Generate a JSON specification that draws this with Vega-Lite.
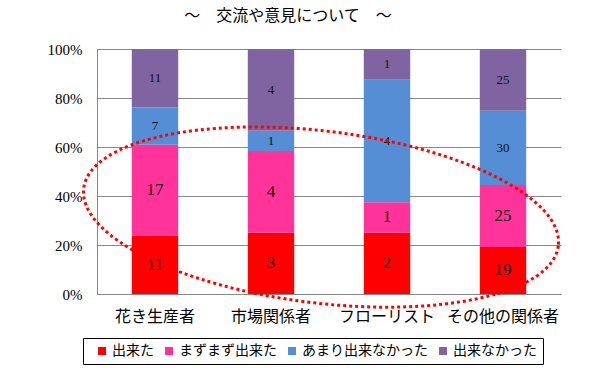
{
  "$schema": "https://vega.github.io/schema/vega-lite/v6.json",
  "width": 464,
  "height": 245,
  "autosize": {"type": "none"},
  "padding": {"left": 97, "top": 49, "right": 35, "bottom": 86},
  "background": "white",
  "title": {"text": "～　交流や意見について　～", "font": "Noto Sans CJK JP", "fontSize": 16, "fontWeight": "normal", "color": "#000", "anchor": "middle", "dx": -41, "offset": 18},
  "config": {"view": {"stroke": null}},
  "layer": [
    {
      "data": {"values": [
        {"cat": "花き生産者", "series": "出来た", "k": 1, "n": 11},
        {"cat": "花き生産者", "series": "まずまず出来た", "k": 2, "n": 17},
        {"cat": "花き生産者", "series": "あまり出来なかった", "k": 3, "n": 7},
        {"cat": "花き生産者", "series": "出来なかった", "k": 4, "n": 11},
        {"cat": "市場関係者", "series": "出来た", "k": 1, "n": 3},
        {"cat": "市場関係者", "series": "まずまず出来た", "k": 2, "n": 4},
        {"cat": "市場関係者", "series": "あまり出来なかった", "k": 3, "n": 1},
        {"cat": "市場関係者", "series": "出来なかった", "k": 4, "n": 4},
        {"cat": "フローリスト", "series": "出来た", "k": 1, "n": 2},
        {"cat": "フローリスト", "series": "まずまず出来た", "k": 2, "n": 1},
        {"cat": "フローリスト", "series": "あまり出来なかった", "k": 3, "n": 4},
        {"cat": "フローリスト", "series": "出来なかった", "k": 4, "n": 1},
        {"cat": "その他の関係者", "series": "出来た", "k": 1, "n": 19},
        {"cat": "その他の関係者", "series": "まずまず出来た", "k": 2, "n": 25},
        {"cat": "その他の関係者", "series": "あまり出来なかった", "k": 3, "n": 30},
        {"cat": "その他の関係者", "series": "出来なかった", "k": 4, "n": 25}
      ]},
      "transform": [
        {"stack": "n", "groupby": ["cat"], "sort": [{"field": "k", "order": "ascending"}], "offset": "normalize", "as": ["y0", "y1"]},
        {"calculate": "(datum.y0 + datum.y1) / 2", "as": "ym"}
      ],
      "layer": [
        {
          "mark": {"type": "bar"},
          "encoding": {
            "x": {"field": "cat", "type": "nominal", "sort": ["花き生産者", "市場関係者", "フローリスト", "その他の関係者"],
              "scale": {"paddingInner": 0.6, "paddingOuter": 0.3},
              "axis": {"title": null, "labelAngle": 0, "labelFont": "Noto Sans CJK JP", "labelFontSize": 16, "labelColor": "#000", "ticks": false, "labelPadding": 14, "domainColor": "#888", "domainWidth": 1}},
            "y": {"field": "y0", "type": "quantitative", "scale": {"domain": [0, 1], "nice": false},
              "axis": {"title": null, "values": [0, 0.1, 0.2, 0.3, 0.4, 0.5, 0.6, 0.7, 0.8, 0.9, 1],
                "labelExpr": "round(datum.value*100) % 20 === 0 ? round(datum.value*100) + '%' : ''",
                "labelFont": "Liberation Serif", "labelFontSize": 15, "labelColor": "#000", "labelPadding": 20,
                "domainColor": "#888", "grid": true, "gridColor": "#888",
                "gridOpacity": {"condition": {"test": "round(datum.value*100) % 20 === 0", "value": 1}, "value": 0},
                "tickColor": "#888", "tickSize": -5}},
            "y2": {"field": "y1"},
            "color": {"field": "series", "type": "nominal",
              "scale": {"domain": ["出来た", "まずまず出来た", "あまり出来なかった", "出来なかった"], "range": ["#FF0000", "#FF3399", "#558ED5", "#8064A2"]},
              "legend": {"title": null, "orient": "none", "legendX": -14, "legendY": 289, "direction": "horizontal",
                "symbolType": "square", "symbolSize": 64, "symbolStrokeWidth": 0, "symbolOffset": 6,
                "labelFont": "Noto Sans CJK JP", "labelFontSize": 14, "labelColor": "#000", "labelOffset": 3,
                "columnPadding": 2, "padding": 6, "strokeColor": "#000", "fillColor": "white"}}
          }
        },
        {
          "mark": {"type": "text", "font": "Liberation Serif", "color": "#111", "baseline": "middle"},
          "encoding": {
            "x": {"field": "cat", "type": "nominal", "sort": ["花き生産者", "市場関係者", "フローリスト", "その他の関係者"]},
            "y": {"field": "ym", "type": "quantitative"},
            "text": {"field": "n"},
            "size": {"condition": {"test": "datum.k <= 2", "value": 17}, "value": 13}
          }
        }
      ]
    },
    {
      "data": {"values": [{"cat": "市場関係者", "v": 0.314}]},
      "mark": {"type": "point", "shape": "M 287.3 28.7 A 239 86 6.9 1 1 -187.3 -28.7 A 239 86 6.9 1 1 287.3 28.7 Z", "size": 4, "filled": false, "stroke": "#FF0000", "strokeWidth": 3, "strokeDash": [3, 3], "strokeCap": "butt", "opacity": 1},
      "encoding": {
        "x": {"field": "cat", "type": "nominal", "sort": ["花き生産者", "市場関係者", "フローリスト", "その他の関係者"]},
        "y": {"field": "v", "type": "quantitative"}
      }
    }
  ]
}
